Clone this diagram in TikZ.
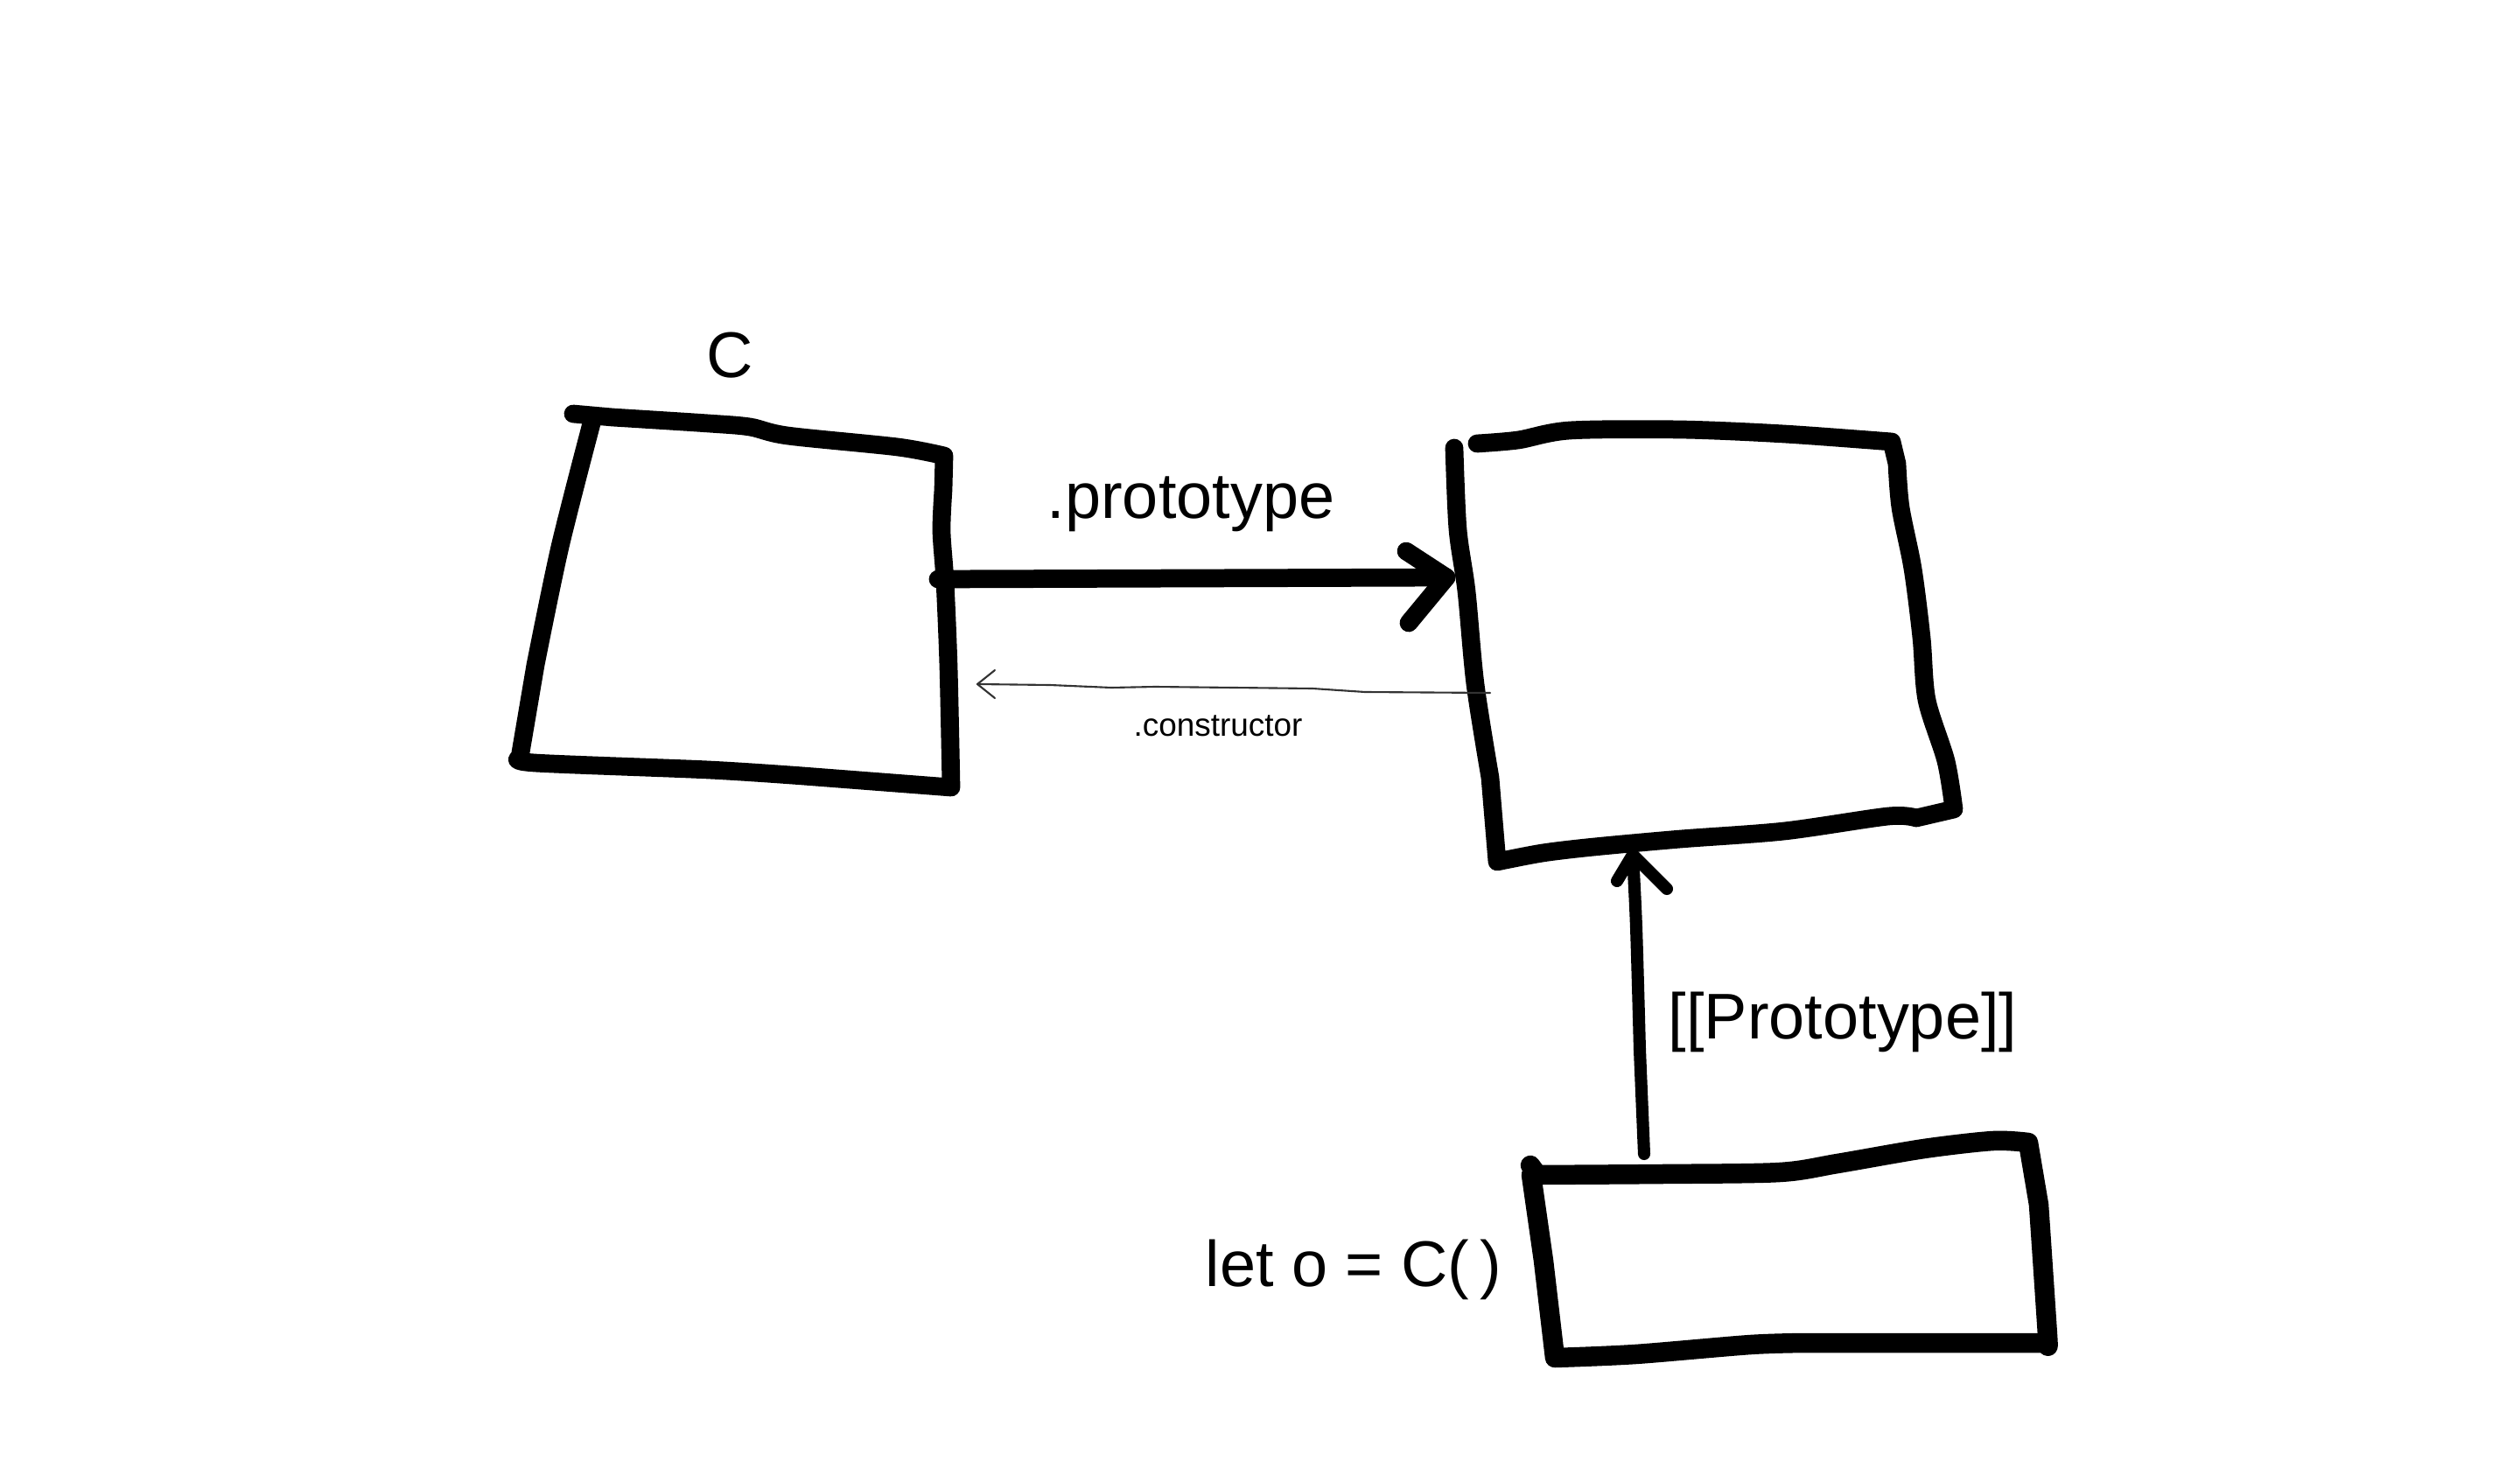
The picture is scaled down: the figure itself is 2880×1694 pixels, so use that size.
\documentclass[tikz,border=0pt]{standalone}
\usepackage{fontspec}
\setmainfont{Liberation Sans}
\begin{document}
\begin{tikzpicture}[x=0.01cm,y=-0.01cm,
  hand/.style={line width=5.9pt, line cap=round, line join=round},
  handthick/.style={line width=6.4pt, line cap=round, line join=round},
  handmid/.style={line width=4pt, line cap=round, line join=round},
  thinline/.style={line width=0.6pt, draw=black!80, line cap=round, line join=round},
  biglabel/.style={font=\fontsize{21pt}{25pt}\selectfont, inner sep=0pt},
  smalllabel/.style={font=\fontsize{10.5pt}{12pt}\selectfont, inner sep=0pt}]
\useasboundingbox (0,0) rectangle (2880,1694);

% Box C
\draw[hand] (655,473) -- plot[smooth, tension=0.5] coordinates {(700,477) (810,484) (857,488) (900,498) (1026,511) (1079,521)}
  -- plot[smooth, tension=0.5] coordinates {(1078,560) (1076,607) (1080,665) (1084,762) (1087,900)}
  -- plot[smooth, tension=0.5] coordinates {(918,887) (810,880) (611,872) (594,866)}
  -- plot[smooth, tension=0.5] coordinates {(612,760) (640,625) (676,484)};
\node[biglabel] (Clabel) at (834,406) {C};

% Prototype object box
\draw[hand] plot[smooth, tension=0.5] coordinates {(1688,507) (1735,503) (1794,492) (1921,491) (2039,496) (2162,505)}
  -- plot[smooth, tension=0.5] coordinates {(2168,530) (2172,580) (2186,650) (2196,729) (2202,800) (2224,870) (2233,925)}
  -- plot[smooth, tension=0.5] coordinates {(2190,935) (2158,933) (2039,950) (1921,959) (1822,968) (1763,975) (1711,985)}
  -- plot[smooth, tension=0.5] coordinates {(1703,889) (1686,782) (1676,676) (1666,605) (1662,512)};

% Instance box
\draw[handthick] (1749,1332) -- plot[smooth, tension=0.5] coordinates {(1757,1343) (1900,1342) (2034,1340) (2100,1330) (2199,1313) (2278,1304) (2318,1306)}
  -- plot[smooth, tension=0.5] coordinates {(2330,1377) (2340,1526) (2340,1535)}
  -- plot[smooth, tension=0.5] coordinates {(2067,1535) (2001,1537) (1869,1548) (1777,1552)}
  -- plot[smooth, tension=0.5] coordinates {(1764,1441) (1750,1343)};

% .prototype arrow
\coordinate (pstart) at (1072,662);
\coordinate (ptip) at (1653,660);
\draw[hand] (pstart) -- (ptip);
\draw[hand] (1607,630) -- (ptip) -- (1610,712);
\node[biglabel] (protolabel) at (1361,576) {.prototype};

% .constructor arrow
\coordinate (cstart) at (1703,792);
\coordinate (ctip) at (1117,782);
\draw[thinline] (cstart) -- (1560,791) -- (1500,787) -- (1320,785) -- (1270,786) -- (1200,783) -- (ctip);
\draw[thinline] (1137,766) -- (ctip) -- (1137,798);
\node[smalllabel] (conlabel) at (1392,830) {.constructor};

% [[Prototype]] arrow
\coordinate (ustart) at (1879,1319);
\coordinate (utip) at (1866,977);
\draw[handmid] (ustart) -- plot[smooth, tension=0.5] coordinates {(1874,1200) (1870,1060) (utip)};
\draw[handmid] (1848,1007) -- (utip) -- (1905,1016);
\node[biglabel] (ppl) at (2106,1168) {[[Prototype]]};

% let o = C( )
\node[biglabel, anchor=east] (letlabel) at (1717,1451) {let o = C(\,)};
\end{tikzpicture}
\end{document}
